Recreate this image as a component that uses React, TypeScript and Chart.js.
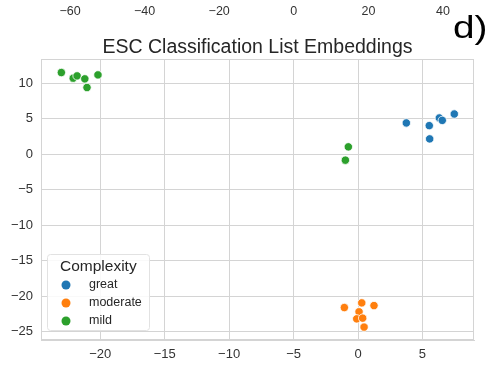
import React, { useEffect, useRef } from "react";
import { Chart, registerables } from "chart.js";

Chart.register(...registerables);

const titleText = "ESC Classification List Embeddings";
const panelLabel = "d)";
const legendTitle = "Complexity";

const seriesNames = ["great", "moderate", "mild"];
const seriesColors = ["#1f77b4", "#ff7f0e", "#2ca02c"];

const greatX = [3.75, 5.53, 5.56, 6.31, 6.54, 7.47];
const greatY = [4.39, 4.01, 2.14, 5.09, 4.75, 5.65];

const moderateX = [-1.06, 0.29, 1.24, 0.08, -0.1, 0.36, 0.47];
const moderateY = [-21.63, -20.97, -21.35, -22.23, -23.22, -23.12, -24.38];

const mildX = [-23.02, -22.1, -21.8, -21.2, -21.03, -20.18, -0.75, -0.98];
const mildY = [11.49, 10.7, 11.02, 10.6, 9.38, 11.16, 1.02, -0.86];

const xTicks = [-20, -15, -10, -5, 0, 5];
const yTicks = [-25, -20, -15, -10, -5, 0, 5, 10];
const xTopTicks = [-60, -40, -20, 0, 20, 40];

const FONT = '"Liberation Sans", Arial, sans-serif';
const GRID = "#d4d4d4";
const TEXT = "#333333";

const fmt = (v: number) => (v < 0 ? "\u2212" + Math.abs(v) : String(v));

const toPoints = (xs: number[], ys: number[]) => xs.map((x, i) => ({ x, y: ys[i] }));

const decorPlugin = {
  id: "decor",
  beforeDatasetsDraw(chart: any) {
    const { ctx, chartArea: ca } = chart;
    ctx.save();
    ctx.strokeStyle = GRID;
    ctx.lineWidth = 1;
    ctx.strokeRect(ca.left + 0.5, ca.top + 0.5, ca.right - ca.left - 1, ca.bottom - ca.top - 1);
    ctx.restore();
  },
  afterDatasetsDraw(chart: any) {
    const { ctx, chartArea: ca } = chart;
    const top = chart.scales.xTop;
    ctx.save();
    // cut-off tick labels of the chart above
    ctx.font = `12.5px ${FONT}`;
    ctx.fillStyle = TEXT;
    ctx.textAlign = "center";
    ctx.textBaseline = "middle";
    xTopTicks.forEach((v) => ctx.fillText(fmt(v), top.getPixelForValue(v), 12));
    // title
    ctx.font = `19.5px ${FONT}`;
    ctx.fillStyle = "#262626";
    ctx.textBaseline = "alphabetic";
    ctx.fillText(titleText, (ca.left + ca.right) / 2, 53);
    // panel label
    ctx.save();
    ctx.translate(453, 38);
    ctx.scale(1.25, 1);
    ctx.font = `31px ${FONT}`;
    ctx.fillStyle = "#000000";
    ctx.textAlign = "left";
    ctx.fillText(panelLabel, 0, 0);
    ctx.restore();
    // legend
    const lx = ca.left + 6;
    const ly = ca.bottom - 86;
    const lw = 102;
    const lh = 76;
    ctx.fillStyle = "rgba(255,255,255,0.85)";
    ctx.strokeStyle = "#e2e2e2";
    ctx.lineWidth = 1;
    ctx.beginPath();
    (ctx as any).roundRect(lx + 0.5, ly + 0.5, lw, lh, 3);
    ctx.fill();
    ctx.stroke();
    ctx.fillStyle = "#262626";
    ctx.font = `15.5px ${FONT}`;
    ctx.textAlign = "left";
    ctx.textBaseline = "middle";
    ctx.fillText(legendTitle, lx + 13, ly + 13);
    ctx.font = `12.5px ${FONT}`;
    seriesNames.forEach((name, i) => {
      const cy = ly + 31 + 18 * i;
      ctx.beginPath();
      ctx.arc(lx + 19, cy, 4.5, 0, Math.PI * 2);
      ctx.fillStyle = seriesColors[i];
      ctx.fill();
      ctx.fillStyle = "#262626";
      ctx.fillText(name, lx + 42, cy);
    });
    ctx.restore();
  },
};

export default function App() {
  const ref = useRef<HTMLCanvasElement | null>(null);
  useEffect(() => {
    document.body.style.margin = "0";
    if (!ref.current) return;
    const sets = [toPoints(greatX, greatY), toPoints(moderateX, moderateY), toPoints(mildX, mildY)];
    const chart = new Chart(ref.current, {
      type: "scatter",
      data: {
        datasets: sets.map((d, i) => ({
          label: seriesNames[i],
          data: d,
          backgroundColor: seriesColors[i],
          borderColor: "#ffffff",
          borderWidth: 0.8,
          pointRadius: 4.2,
          pointHoverRadius: 4.2,
        })),
      },
      options: {
        animation: false,
        responsive: false,
        events: [],
        layout: { padding: { top: 59, right: 17, bottom: 0, left: 0 } },
        plugins: { legend: { display: false }, title: { display: false }, tooltip: { enabled: false } },
        scales: {
          x: {
            type: "linear",
            min: -24.6,
            max: 9.0,
            afterBuildTicks: (a: any) => {
              a.ticks = xTicks.map((v) => ({ value: v }));
            },
            afterFit: (a: any) => {
              a.height = 27;
            },
            grid: { color: GRID, drawTicks: false, lineWidth: 1 },
            border: { display: true, color: GRID },
            ticks: { padding: 7, color: TEXT, font: { size: 13, family: FONT }, callback: (v: any) => fmt(Number(v)) },
          },
          y: {
            type: "linear",
            min: -26.2,
            max: 13.4,
            afterBuildTicks: (a: any) => {
              a.ticks = yTicks.map((v) => ({ value: v }));
            },
            afterFit: (a: any) => {
              a.width = 41;
            },
            grid: { color: GRID, drawTicks: false, lineWidth: 1 },
            border: { display: true, color: GRID },
            ticks: { padding: 8, color: TEXT, font: { size: 13, family: FONT }, callback: (v: any) => fmt(Number(v)) },
          },
          xTop: {
            type: "linear",
            position: "top",
            display: false,
            min: -67.77,
            max: 48.31,
          },
        },
      } as any,
      plugins: [decorPlugin],
    });
    return () => chart.destroy();
  }, []);
  return (
    <div style={{ width: 491, height: 367 }}>
      <canvas ref={ref} width={491} height={367} style={{ display: "block" }} />
    </div>
  );
}
